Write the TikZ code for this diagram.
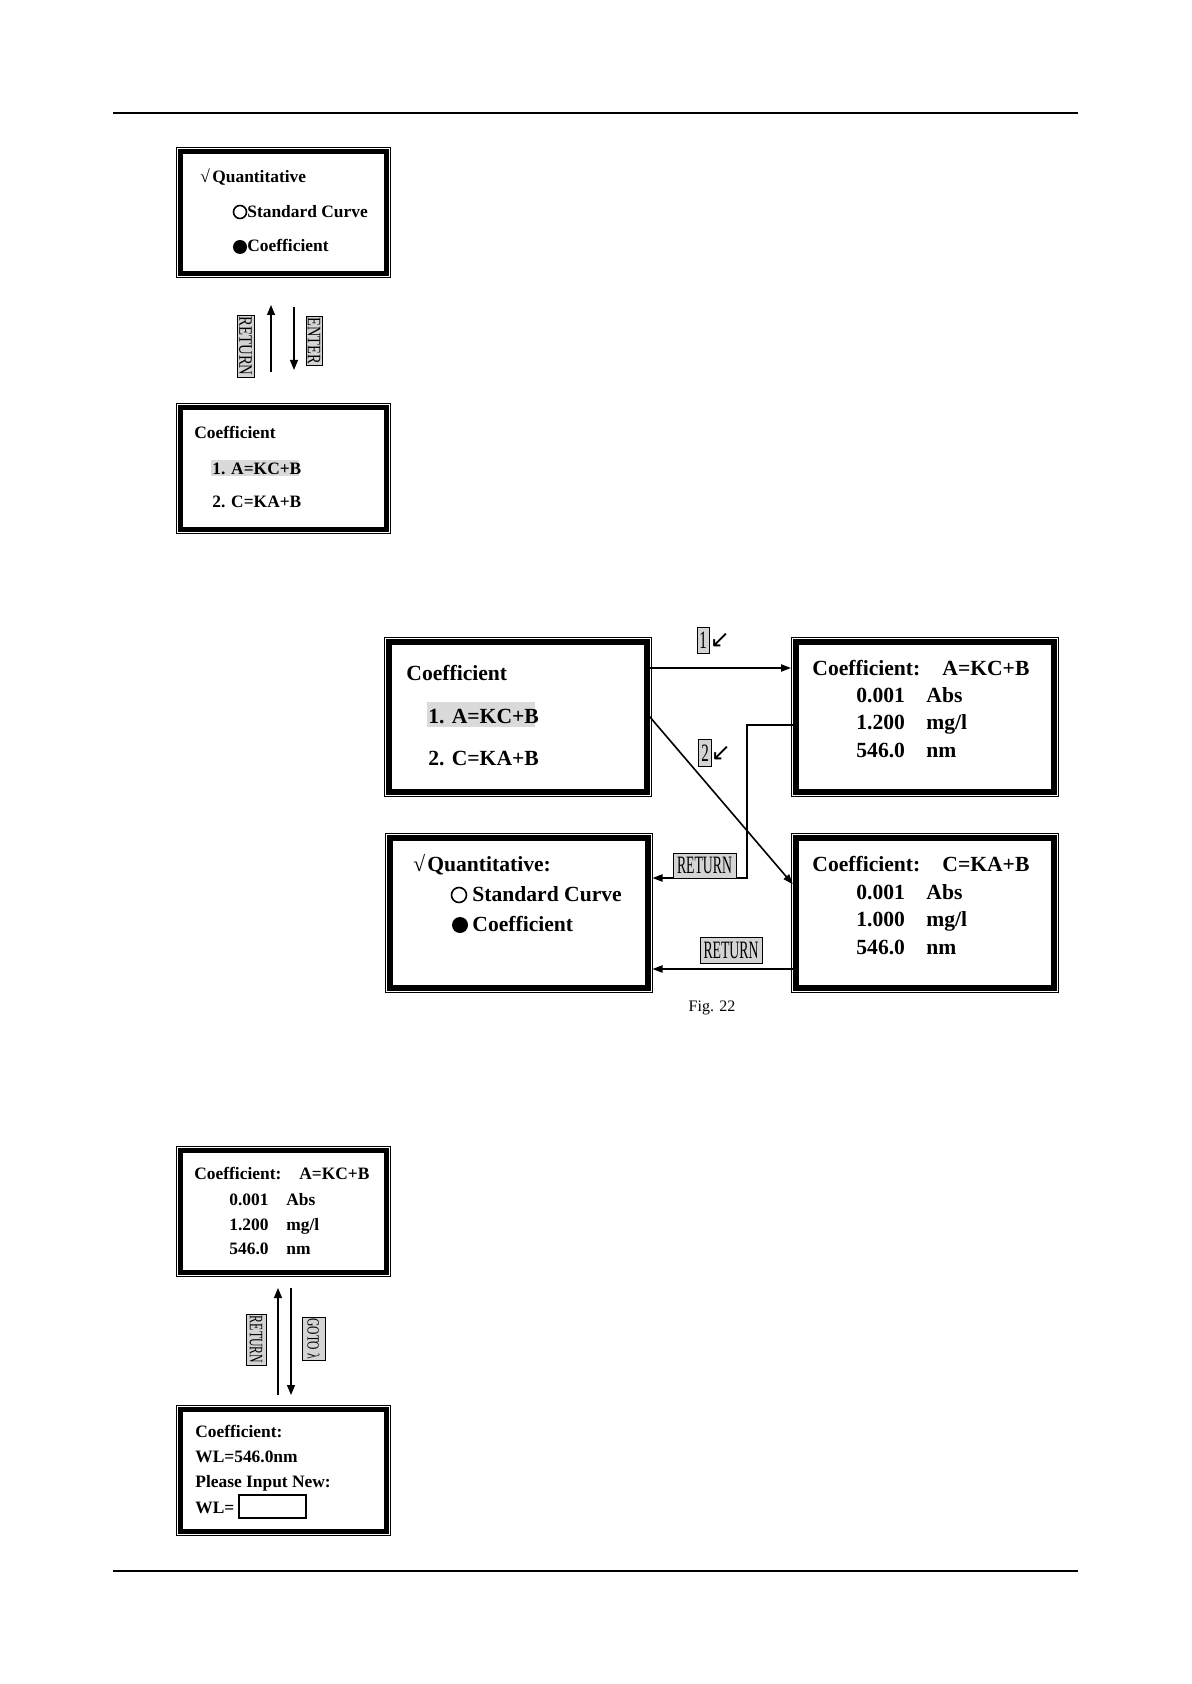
\documentclass[tikz,border=0pt]{standalone}
\usepackage{graphicx}
\usepackage{fontspec}
\setmainfont{Liberation Serif}
\newfontfamily\dejavu{DejaVu Sans}
\usetikzlibrary{arrows.meta}
\definecolor{keygray}{HTML}{D4D4D4}
\definecolor{hlgray}{HTML}{DADADA}
\newcommand\outerframe[2]{\draw[line width=0.5pt] ([shift={(-#2,#2)}]#1.north west) rectangle ([shift={(#2,-#2)}]#1.south east);}
\tikzset{
 scr/.style={draw, line width=2.5pt, minimum width=103pt, minimum height=61pt, inner sep=0pt, outer sep=0pt},
 bigscr/.style={draw, line width=3pt, minimum width=129pt, minimum height=75pt, inner sep=0pt, outer sep=0pt},
 stxt/.style={anchor=base west, inner sep=0pt, font=\fontsize{8.7pt}{10pt}\selectfont\bfseries},
 btxt/.style={anchor=base west, inner sep=0pt, font=\fontsize{10.8pt}{12pt}\selectfont\bfseries},
 keylabel/.style={draw, line width=0.4pt, fill=keygray, inner sep=0pt},
 conn/.style={line width=0.8pt, -{Triangle[length=5pt,width=3.6pt]}},
 sconn/.style={line width=0.6pt, -{Triangle[length=5pt,width=4pt]}},
 hilite/.style={fill=hlgray, draw=none, inner sep=0pt},
 opendot/.style={circle, draw, line width=0.8pt, inner sep=0pt},
 fulldot/.style={circle, fill=black, inner sep=0pt},
 pointer/.style={inner sep=0pt, font=\dejavu\fontsize{12pt}{12pt}\selectfont},
}
\begin{document}
\begin{tikzpicture}[x=0.5pt,y=-0.5pt]
\useasboundingbox[fill=white] (0,0) rectangle (1191,1684);
% page rules
\coordinate (tl) at (113,113); \coordinate (tr) at (1078,113);
\coordinate (bl) at (113,1571); \coordinate (br) at (1078,1571);
\draw[line width=0.8pt] (tl) -- (tr);
\draw[line width=0.8pt] (bl) -- (br);

% ---------- top pair ----------
\node[scr] (s1) at (283.5,212.5) {};
\outerframe{s1}{2pt}
\node[stxt] (s1a) at (200,183) {√\hspace{1.2pt}Quantitative};
\node[opendot, minimum size=6.5pt] (s1o) at (240,212) {};
\node[stxt] (s1b) at (247,217.5) {Standard Curve};
\node[fulldot, minimum size=7pt] (s1f) at (240,247) {};
\node[stxt] (s1c) at (247,252) {Coefficient};

\node[scr] (s2) at (283.5,468.5) {};
\outerframe{s2}{2pt}
\node[hilite, minimum width=44pt, minimum height=8pt] (s2h) at (255,468) {};
\node[stxt] (s2a) at (194,438) {Coefficient};
\node[stxt] (s2b) at (212,474) {1. A=KC+B};
\node[stxt] (s2c) at (212,507) {2. C=KA+B};

\draw[sconn, shorten <=17.75pt, shorten >=15.75pt] ([xshift=-6.25pt]s2.north) -- ([xshift=-6.25pt]s1.south);
\draw[sconn, shorten <=16.75pt, shorten >=18.75pt] ([xshift=5.25pt]s1.south) -- ([xshift=5.25pt]s2.north);
\node[keylabel, rotate=-90, minimum width=31pt, minimum height=8.5pt, font=\fontsize{9.5pt}{9.5pt}\selectfont] (k1) at (245.5,346) {\scalebox{0.78}[1]{RETURN}};
\node[keylabel, rotate=-90, minimum width=24.5pt, minimum height=8pt, font=\fontsize{9.5pt}{9.5pt}\selectfont] (k2) at (314,340.5) {\scalebox{0.76}[1]{ENTER}};

% ---------- Fig. 22 ----------
\node[bigscr] (f1) at (517.5,717) {};
\outerframe{f1}{2.25pt}
\node[hilite, minimum width=54pt, minimum height=12.5pt] (f1h) at (481,714.5) {};
\node[btxt] (f1a) at (406,680) {Coefficient};
\node[btxt] (f1b) at (428,723) {1. A=KC+B};
\node[btxt] (f1c) at (428,765) {2. C=KA+B};

\node[bigscr] (f2) at (925,717) {};
\outerframe{f2}{2.25pt}
\node[btxt] (f2a) at (812,675) {Coefficient:};
\node[btxt] (f2b) at (942,675) {A=KC+B};
\node[btxt] (f2c) at (856,702) {0.001};
\node[btxt] (f2d) at (926,702) {Abs};
\node[btxt] (f2e) at (856,729) {1.200};
\node[btxt] (f2f) at (926,729) {mg/l};
\node[btxt] (f2g) at (856,757) {546.0};
\node[btxt] (f2h) at (926,757) {nm};

\node[bigscr] (f3) at (518.5,913) {};
\outerframe{f3}{2.25pt}
\node[btxt] (f3a) at (413,871) {√\hspace{1pt}Quantitative:};
\node[opendot, minimum size=7.5pt] (f3o) at (459,895) {};
\node[btxt] (f3b) at (472,901) {Standard Curve};
\node[fulldot, minimum size=8pt] (f3f) at (460,925) {};
\node[btxt] (f3c) at (472,931) {Coefficient};

\node[bigscr] (f4) at (925,913) {};
\outerframe{f4}{2.25pt}
\node[btxt] (f4a) at (812,871) {Coefficient:};
\node[btxt] (f4b) at (942,871) {C=KA+B};
\node[btxt] (f4c) at (856,899) {0.001};
\node[btxt] (f4d) at (926,899) {Abs};
\node[btxt] (f4e) at (856,926) {1.000};
\node[btxt] (f4f) at (926,926) {mg/l};
\node[btxt] (f4g) at (856,954) {546.0};
\node[btxt] (f4h) at (926,954) {nm};

\draw[conn, shorten >=2.5pt] ([yshift=24.5pt]f1.east) -- ([yshift=24.5pt]f2.west);
\draw[conn, shorten >=2.5pt] ([yshift=2pt]f1.east) -- ([yshift=12.5pt]f4.west);
\coordinate (rj) at (747,878);
\draw[conn, shorten >=2.5pt] ([yshift=-4pt]f2.west) -| (rj) -- (rj -| f3.east);
\draw[conn, shorten >=2.5pt] ([yshift=-28pt]f4.west) -- ([yshift=-28pt]f3.east);

\node[keylabel, minimum width=6pt, minimum height=13pt, font=\fontsize{12.5pt}{12.5pt}\selectfont] (n1) at (703,640) {\scalebox{0.6}[1]{1}};
\node[pointer] (n1a) at (720,640) {↙};
\node[keylabel, minimum width=6.5pt, minimum height=13.5pt, font=\fontsize{12.5pt}{12.5pt}\selectfont] (n2) at (705,753) {\scalebox{0.6}[1]{2}};
\node[pointer] (n2a) at (721,753) {↙};
\node[keylabel, minimum width=31.5pt, minimum height=12.5pt, font=\fontsize{12.5pt}{12.5pt}\selectfont] (r1) at (704.5,865.5) {\scalebox{0.55}[1]{RETURN}};
\node[keylabel, minimum width=31pt, minimum height=13pt, font=\fontsize{12.5pt}{12.5pt}\selectfont] (r2) at (731,950) {\scalebox{0.55}[1]{RETURN}};
\node[font=\fontsize{8pt}{8pt}\selectfont, inner sep=0pt] (cap) at (712,1008) {Fig. 22};

% ---------- bottom pair ----------
\node[scr] (s5) at (283.5,1211.5) {};
\outerframe{s5}{2pt}
\node[stxt] (s5a) at (194,1179) {Coefficient:};
\node[stxt] (s5b) at (299,1179) {A=KC+B};
\node[stxt] (s5c) at (229,1205) {0.001};
\node[stxt] (s5d) at (286,1205) {Abs};
\node[stxt] (s5e) at (229,1230) {1.200};
\node[stxt] (s5f) at (286,1230) {mg/l};
\node[stxt] (s5g) at (229,1254) {546.0};
\node[stxt] (s5h) at (286,1254) {nm};

\node[scr] (s6) at (283.5,1470.5) {};
\outerframe{s6}{2pt}
\node[stxt] (s6a) at (195,1437) {Coefficient:};
\node[stxt] (s6b) at (195,1462) {WL=546.0nm};
\node[stxt] (s6c) at (195,1487) {Please Input New:};
\node[stxt] (s6d) at (195,1513) {WL=};
\node[draw, line width=0.7pt, minimum width=33.5pt, minimum height=11.5pt, inner sep=0pt] (wl) at (272.5,1506.5) {};

\draw[sconn, shorten <=7.25pt, shorten >=7.75pt] ([xshift=-2.75pt]s6.north) -- ([xshift=-2.75pt]s5.south);
\draw[sconn, shorten <=7.75pt, shorten >=7.25pt] ([xshift=3.75pt]s5.south) -- ([xshift=3.75pt]s6.north);
\node[keylabel, rotate=-90, minimum width=25.5pt, minimum height=10pt, font=\fontsize{9.5pt}{9.5pt}\selectfont] (k3) at (256,1339.5) {\scalebox{0.62}[1]{RETURN}};
\node[keylabel, rotate=-90, minimum width=21.5pt, minimum height=11.5pt, font=\fontsize{8.5pt}{8.5pt}\selectfont] (k4) at (313.5,1338.5) {\scalebox{0.68}[1]{GOTO λ}};
\end{tikzpicture}
\end{document}
